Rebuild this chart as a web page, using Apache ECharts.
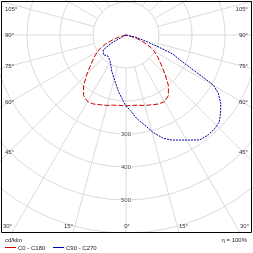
<!DOCTYPE html>
<html><head><meta charset="utf-8">
<script src="https://cdn.jsdelivr.net/npm/echarts@6/dist/echarts.min.js"></script>
<style>html,body{margin:0;padding:0;background:#fff}#c{width:253px;height:253px}</style>
</head><body><div id="c"></div>
<script>
// ---- data ----
const angleTicks = [-105,-90,-75,-60,-45,-30,-15,0,15,30,45,60,75,90,105];
const radialTickLabels = [300,400,500];
const seriesNames = ['C0 - C180','C90 - C270'];
const unitText = 'cd/klm';
const effText = 'η = 100%';
const redAngles = [-80,-78,-75,-72,-69,-66,-63,-60,-55,-50,-45,-40,-35,-30,-25,-20,-15,-10,-5,0,5,10,15,20,25,30,35,40,45,50,55,60,63,66,69,72,75,78,80];
const redValues = [0,5,17,33,50,68,86,99,118,139,167,200,224,233,231,225,221,216,214,215,214,216,221,225,231,233,224,200,167,139,118,99,86,68,50,33,17,5,0];
const blueAngles = [-66,-64,-60.8,-57,-56,-49,-40,-31,-21.5,-13.4,-7.8,-2.3,0,3.5,7.3,12.7,15.6,19.9,23.5,27.2,31.4,35.2,39.5,43.6,47.1,50.4,54.2,57.7,60.2,60.9,62.5,65.2,67.9,69.7,72.5,77,80];
const blueValues = [0,9,50,82,89,91,84,93,118,144,172,201,215,230,255,285,307,333,347,358,373,389,392,391,386,372,354,331,305,280,230,180,153,108,64,31,0];

// ---- layout ----
const CX = 126, CY = 35, R600 = 198;
const FL = 1.5, FT = 1.5, FR = 251.5, FB = 232.5;
const txt = {fontSize: 6, fontFamily: 'Liberation Sans, Arial, sans-serif', fill: '#333'};

const chart = echarts.init(document.getElementById('c'), null, {renderer: 'canvas'});
const graphics = [];
graphics.push({type: 'rect', z: 100, shape: {x: 0, y: FB + 0.5, width: 253, height: 253 - FB}, style: {fill: '#fff'}});
graphics.push({type: 'rect', z: 101, shape: {x: FL, y: FT, width: FR - FL, height: FB - FT}, style: {fill: 'none', stroke: '#000', lineWidth: 1}});
angleTicks.forEach(a => {
  const th = Math.abs(a) * Math.PI / 180;
  const s = Math.sin(th), c = Math.cos(th);
  const sign = a < 0 ? -1 : (a > 0 ? 1 : 0);
  let x, y, align;
  let bottom = false;
  if (c > 0.01) {
    const t = (FB - CY) / c;
    const xb = CX + sign * s * t;
    if (xb > FL && xb < FR) { bottom = true; x = xb; y = 226; align = sign < 0 ? 'right' : (sign > 0 ? 'left' : 'center'); if (sign===0) x = CX + 1; }
  }
  if (!bottom) {
    x = sign < 0 ? 5 : 248;
    align = sign < 0 ? 'left' : 'right';
    y = CY + 117 * c / s;
    y = Math.max(9, Math.min(226, y));
  }
  graphics.push({type: 'text', z: 102, x: x, y: y, style: Object.assign({}, txt, {text: Math.abs(a) + '°', align: align, verticalAlign: 'middle'})});
});
graphics.push({type: 'text', z: 102, x: 5, y: 240, style: Object.assign({}, txt, {text: unitText, verticalAlign: 'middle', fill: '#222'})});
graphics.push({type: 'text', z: 102, x: 247, y: 240, style: Object.assign({}, txt, {text: effText, align: 'right', verticalAlign: 'middle', fill: '#222'})});
const legendColors = ['#cc0000', '#0000aa'];
const legendX = [5, 53];
seriesNames.forEach((n, i) => {
  graphics.push({type: 'rect', z: 102, shape: {x: legendX[i], y: 247, width: 11, height: 1}, style: {fill: legendColors[i]}});
  graphics.push({type: 'text', z: 102, x: legendX[i] + 13, y: 248, style: Object.assign({}, txt, {text: n, verticalAlign: 'middle', fill: '#222'})});
});

const grid = '#dadada';
const option = {
  animation: false,
  backgroundColor: '#fff',
  polar: [
    {center: [CX, CY], radius: R600},
    {center: [CX, CY], radius: [33, 240]}
  ],
  angleAxis: [
    {polarIndex: 0, type: 'value', min: -180, max: 180, startAngle: 90, clockwise: false,
     axisLine: {show: false}, axisTick: {show: false}, axisLabel: {show: false}, splitLine: {show: false}},
    {polarIndex: 1, type: 'value', min: -180, max: 180, interval: 15, startAngle: 90, clockwise: false,
     axisLine: {show: false}, axisTick: {show: false}, axisLabel: {show: false},
     splitLine: {show: true, lineStyle: {color: grid, width: 1}}}
  ],
  radiusAxis: [
    {polarIndex: 0, type: 'value', min: 0, max: 600, interval: 100,
     axisLine: {show: false}, axisTick: {show: false}, axisLabel: {show: false},
     splitLine: {show: true, lineStyle: {color: grid, width: 1}}},
    {polarIndex: 1, type: 'value', min: 0, max: 1,
     axisLine: {show: false}, axisTick: {show: false}, axisLabel: {show: false}, splitLine: {show: false}}
  ],
  series: [
    {name: seriesNames[0], type: 'line', coordinateSystem: 'polar', polarIndex: 0, showSymbol: false, clip: false,
     lineStyle: {color: legendColors[0], width: 1, type: [5, 2]},
     data: redAngles.map((a, i) => [redValues[i], a])},
    {name: seriesNames[1], type: 'line', coordinateSystem: 'polar', polarIndex: 0, showSymbol: false, clip: false,
     lineStyle: {color: legendColors[1], width: 1, type: [2, 1]},
     data: blueAngles.map((a, i) => [blueValues[i], a])},
    {type: 'scatter', coordinateSystem: 'polar', polarIndex: 0, symbolSize: 0, z: 5,
     data: radialTickLabels.map(v => [v, 0]),
     label: {show: true, position: 'inside', formatter: p => String(p.value[0]), fontSize: 6,
             fontFamily: 'Liberation Sans, Arial, sans-serif', color: '#111', backgroundColor: '#fff', padding: [0, 1]}}
  ],
  graphic: {elements: graphics}
};
chart.setOption(option);
</script></body></html>
